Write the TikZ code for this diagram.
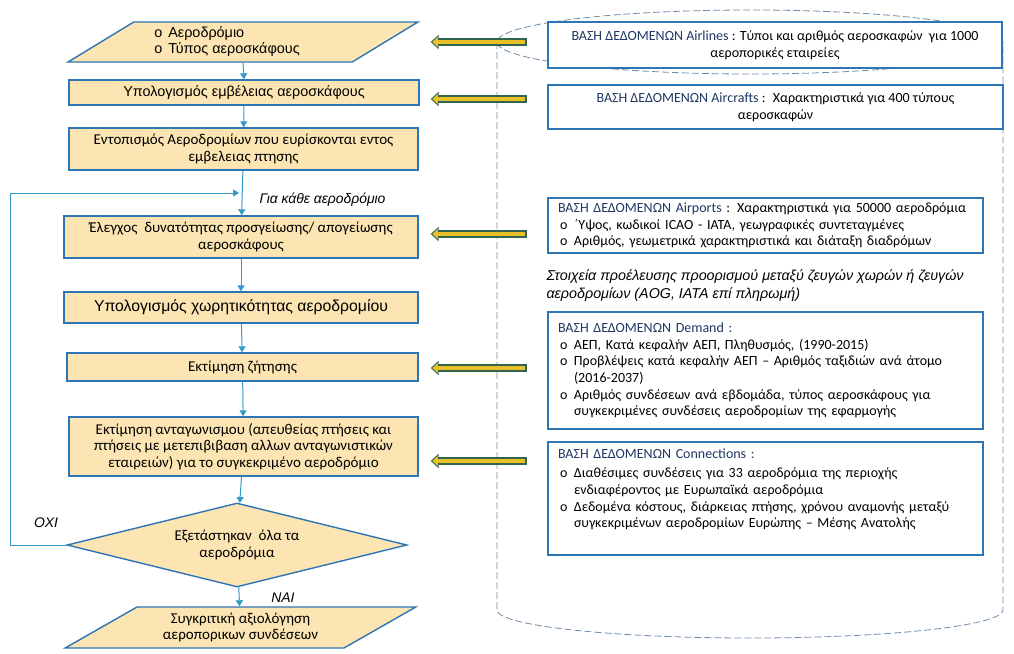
\documentclass[tikz,border=0pt]{standalone}
\usepackage{fontspec}
\setmainfont{Carlito}
\newfontfamily\arialf{Liberation Sans}
\usetikzlibrary{shapes.geometric,arrows.meta}
\definecolor{boxline}{RGB}{46,117,182}
\definecolor{boxfill}{RGB}{252,229,178}
\definecolor{flowblue}{RGB}{51,153,204}
\definecolor{dbyellow}{RGB}{232,192,40}
\definecolor{dbgreen}{RGB}{50,100,80}
\definecolor{dbtitle}{RGB}{31,56,100}
\definecolor{cylline}{RGB}{110,140,170}
\newcommand{\dbitem}{\makebox[16pt][l]{\hspace{2pt}o}}
\newcommand{\dbcont}{\hspace*{16pt}}
\newcommand{\dbname}[1]{{\color{dbtitle}ΒΑΣΗ ΔΕΔΟΜΕΝΩΝ #1}}
\begin{document}
\begin{tikzpicture}[x=1pt,y=-1pt,
  proc/.style={rectangle, draw=boxline, line width=1.4pt, fill=boxfill, align=center, inner sep=2pt, font=\fontsize{15}{16.5}\selectfont},
  iobox/.style={trapezium, trapezium left angle=30, trapezium right angle=150, trapezium stretches=true, draw=boxline, line width=1.4pt, fill=boxfill, inner sep=1pt, font=\fontsize{15}{16.5}\selectfont},
  decide/.style={diamond, aspect=4, draw=boxline, line width=1.4pt, fill=boxfill, align=center, inner sep=1pt, font=\fontsize{15}{16.5}\selectfont},
  dbbox/.style={rectangle, draw=boxline, line width=1.4pt, fill=white, inner sep=2pt, font=\fontsize{14}{16.6}\selectfont},
  flow/.style={draw=flowblue, line width=1pt, -{Triangle[length=6pt,width=7pt]}},
  dbedge/.style={draw=dbgreen, line width=8.5pt, shorten >=11pt, -{Triangle[length=8pt,width=14pt]}},
  dbfill/.style={draw=dbyellow, line width=4.5pt, shorten >=12.6pt, shorten <=2pt, -{Triangle[length=5.5pt,width=9.5pt]}},
  cyl/.style={draw=cylline, line width=0.8pt, dash pattern=on 7pt off 3pt},
  note/.style={font=\arialf\itshape\fontsize{13.9}{17}\selectfont}]
\useasboundingbox (0,0) rectangle (1014,653);

\draw[cyl] (750,42) ellipse [x radius=253, y radius=32];
\draw[cyl] (497,42) -- (497,610) arc[start angle=180, end angle=0, x radius=253, y radius=28] -- (1003,42);

\node[iobox, minimum width=350, minimum height=40, align=left, font=\arialf\fontsize{14.4}{16}\selectfont] (in1) at (243,42){\dbitem Αεροδρόμιο\\\dbitem Τύπος αεροσκάφους\hspace*{34pt}};
\node[proc, minimum width=350, minimum height=25, font=\arialf\fontsize{14.4}{16}\selectfont] (b2) at (244,92.5){Υπολογισμός εμβέλειας αεροσκάφους};
\node[proc, minimum width=349, minimum height=42] (b3) at (243.5,149){Εντοπισμός Αεροδρομίων που ευρίσκονται εντος\\εμβελειας πτησης};
\node[proc, minimum width=354, minimum height=42] (b4) at (241,237){Έλεγχος~ δυνατότητας προσγείωσης/ απογείωσης\\αεροσκάφους};
\node[proc, minimum width=354, minimum height=31, font=\arialf\fontsize{15.8}{18}\selectfont] (b5) at (241,307.5){Υπολογισμός χωρητικότητας αεροδρομίου};
\node[proc, minimum width=351, minimum height=28] (b6) at (242.5,367){Εκτίμηση ζήτησης};
\node[proc, minimum width=349, minimum height=59] (b7) at (243.5,446.5){Εκτίμηση ανταγωνισμου (απευθείας πτήσεις και\\πτήσεις με μετεπιβιβαση αλλων ανταγωνιστικών\\εταιρειών) για το συγκεκριμένο αεροδρόμιο};
\node[decide, minimum width=340, minimum height=84] (d8) at (237,545){Εξετάστηκαν~ όλα τα\\αεροδρόμια};
\node[iobox, minimum width=351, minimum height=41, align=center] (out9) at (240.5,627.5){Συγκριτική αξιολόγηση\\αεροπορικων συνδέσεων};

\coordinate (j) at (239,193);
\coordinate (lp) at (10,545);
\draw[flow] (in1.south) -- (b2.north);
\draw[flow] (b2) -- (b3);
\draw[flow] (b3) -- (b4);
\draw[flow] (b4) -- (b5);
\draw[flow] (b5) -- (b6);
\draw[flow] (b6) -- (b7);
\draw[flow] (b7) -- (d8);
\draw[flow] (d8) -- (out9);
\draw[flow] (d8.west) -- (lp) |- (j);

\node[note, anchor=west] (each) at (256,200){Για κάθε αεροδρόμιο};
\node[note] (no) at (46,523){ΟΧΙ};
\node[note] (yes) at (283,598){ΝΑΙ};

\node[dbbox, minimum width=454, minimum height=46, align=center] (db1) at (775,45){\dbname{Airlines} : Τύποι και αριθμός αεροσκαφών~ για 1000\\αεροπορικές εταιρείες};
\node[dbbox, minimum width=455, minimum height=44, align=center] (db2) at (775.5,107){\dbname{Aircrafts} :~ Χαρακτηριστικά για 400 τύπους\\αεροσκαφών};
\node[dbbox, minimum width=435, minimum height=55, text width=415, align=left] (db3) at (765.5,225.5){\dbname{Airports} : Χαρακτηριστικά για 50000 αεροδρόμια\\\dbitem ΄Υψος, κωδικοί ICAO - IATA, γεωγραφικές συντεταγμένες\\\dbitem Αριθμός, γεωμετρικά χαρακτηριστικά και διάταξη διαδρόμων};
\node[note, anchor=west, align=left, font=\arialf\itshape\fontsize{14.3}{18}\selectfont] (src) at (543,286){Στοιχεία προέλευσης προορισμού μεταξύ ζευγών χωρών ή ζευγών\\αεροδρομίων (AOG, IATA επί πληρωμή)};
\node[dbbox, minimum width=435, minimum height=117, text width=415, align=left] (db4) at (765.5,370.5){\dbname{Demand :}\\\dbitem ΑΕΠ, Κατά κεφαλήν ΑΕΠ, Πληθυσμός, (1990-2015)\\\dbitem Προβλέψεις κατά κεφαλήν ΑΕΠ – Αριθμός ταξιδιών ανά άτομο\\\dbcont (2016-2037)\\\dbitem Αριθμός συνδέσεων ανά εβδομάδα, τύπος αεροσκάφους για\\\dbcont συγκεκριμένες συνδέσεις αεροδρομίων της εφαρμογής};
\node[dbbox, minimum width=435, minimum height=113, text width=415, align=left] (db5) at (765.5,498.5){\dbname{Connections :}\\[3pt]\dbitem Διαθέσιμες συνδέσεις για 33 αεροδρόμια της περιοχής\\\dbcont ενδιαφέροντος με Ευρωπαϊκά αεροδρόμια\\\dbitem Δεδομένα κόστους, διάρκειας πτήσης, χρόνου αναμονής μεταξύ\\\dbcont συγκεκριμένων αεροδρομίων Ευρώπης – Μέσης Ανατολής\\[4pt]\mbox{}};

\foreach \i/\yy in {1/42,2/99,3/234,4/368,5/461}{
  \coordinate (s\i) at (527,\yy);
  \draw[dbedge] (s\i) -- (s\i -| b2.east);
  \draw[dbfill] (s\i) -- (s\i -| b2.east);
}
\end{tikzpicture}
\end{document}
